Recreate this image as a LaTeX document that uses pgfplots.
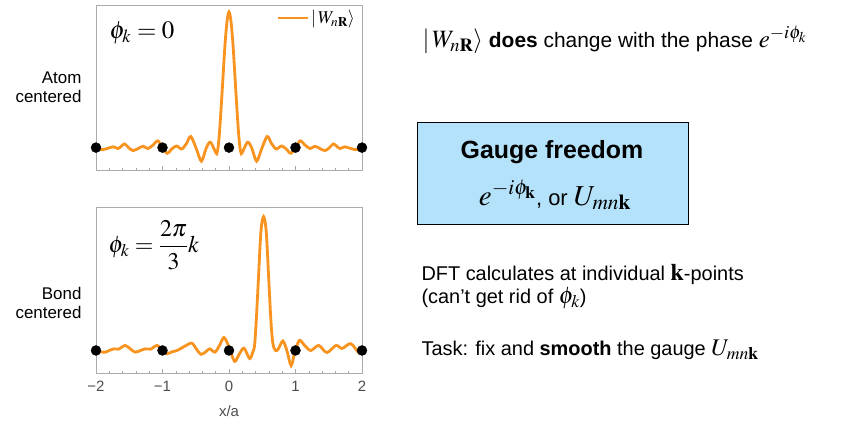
\documentclass[border=0pt]{standalone}
\usepackage{mathptmx}
\usepackage[no-math]{fontspec}
\setmainfont{Liberation Sans}
\usepackage{pgfplots}
\pgfplotsset{compat=1.18}

\definecolor{wfor}{RGB}{247,147,30}
\definecolor{gaugeblue}{RGB}{180,226,250}

\pgfplotsset{
  wanstyle/.style={
    scale only axis,
    width=266bp,
    xmin=-2, xmax=2,
    ymin=-0.165, ymax=1.051,
    xtick={-2,-1,0,1,2},
    minor x tick num=4,
    ytick=\empty,
    tick pos=left,
    tick align=inside,
    axis line style={gray!65, line width=0.9bp},
    major tick length=4bp,
    minor tick length=2.5bp,
    every tick/.style={gray!70, line width=0.6bp},
    tick label style={font=\fontsize{15}{17}\selectfont, text=black!70},
    xticklabel style={yshift=-5bp},
    clip=true,
  },
}
\newcommand{\bmath}[1]{{\fontsize{25}{28}\selectfont$#1$}}

\begin{document}
\begin{tikzpicture}[x=1bp,y=1bp]
\path[use as bounding box] (0,0) rectangle (842,422);
\coordinate (topax) at (96,252);
\coordinate (botax) at (96,49);

% top: atom centered
\begin{axis}[wanstyle,
    at={(topax)}, anchor=south west, height=165bp,
    xticklabels=\empty,
    legend style={draw=none, fill=none, at={(0.985,0.985)}, anchor=north east,
      font=\fontsize{18}{20}\selectfont, inner sep=1bp},
    legend image code/.code={\draw[#1] (0bp,0bp) -- (30bp,0bp);},
]
\addplot[wfor, line width=2.8bp, smooth] table {
x y
-2.00 -0.005
-1.96 -0.01
-1.90 -0.015
-1.82 -0.005
-1.74 0.006
-1.67 -0.007
-1.62 0.01
-1.57 0.027
-1.50 -0.005
-1.44 -0.022
-1.36 -0.005
-1.29 0.01
-1.22 -0.007
-1.14 0.02
-1.07 0.05
-1.00 0.00
-0.93 -0.042
-0.86 -0.01
-0.79 0.012
-0.71 -0.01
-0.64 0.03
-0.575 0.082
-0.49 -0.01
-0.415 -0.10
-0.34 0.00
-0.28 0.04
-0.21 -0.025
-0.185 -0.045
-0.165 0.00
-0.145 0.10
-0.12 0.28
-0.09 0.52
-0.06 0.76
-0.03 0.93
0.00 1.00
0.03 0.93
0.06 0.76
0.09 0.52
0.12 0.28
0.145 0.10
0.165 0.00
0.185 -0.045
0.21 -0.025
0.28 0.04
0.34 0.00
0.415 -0.10
0.49 -0.01
0.575 0.082
0.64 0.03
0.71 -0.01
0.79 0.012
0.86 -0.01
0.93 -0.042
1.00 0.00
1.07 0.05
1.14 0.02
1.22 -0.007
1.29 0.01
1.36 -0.005
1.44 -0.022
1.50 -0.005
1.57 0.027
1.62 0.01
1.67 -0.007
1.74 0.006
1.82 -0.005
1.90 -0.015
1.96 -0.01
2.00 -0.005
};
\addlegendentry{$|\,W_{n\mathbf{R}}\rangle$}
\addplot[only marks, mark=*, mark size=5bp, black, forget plot] coordinates {
(-2,0) (-1,0) (0,0) (1,0) (2,0)
};
\end{axis}

% bottom: bond centered
\begin{axis}[wanstyle,
    at={(botax)}, anchor=south west, height=166bp,
    xticklabels={{−2},{−1},0,1,2},
    xlabel={x/a},
    xlabel style={font=\fontsize{15}{17}\selectfont, text=black!70, yshift=-7bp},
]
\addplot[wfor, line width=2.8bp, smooth] table {
x y
-2.00 0.00
-1.93 -0.01
-1.86 -0.012
-1.80 0.00
-1.73 0.012
-1.66 0.01
-1.56 0.037
-1.48 0.01
-1.41 -0.012
-1.33 0.00
-1.26 0.012
-1.18 0.01
-1.08 0.037
-1.00 0.00
-0.93 -0.024
-0.86 -0.01
-0.78 0.00
-0.67 0.03
-0.56 0.054
-0.49 0.01
-0.42 -0.028
-0.35 -0.01
-0.29 0.012
-0.21 -0.012
-0.14 0.04
-0.08 0.095
-0.03 0.06
0.01 0.01
0.085 -0.08
0.15 -0.03
0.225 0.017
0.31 -0.059
0.36 -0.01
0.385 0.04
0.41 0.22
0.44 0.50
0.48 0.87
0.52 0.98
0.56 0.87
0.60 0.50
0.63 0.22
0.66 0.05
0.70 0.00
0.74 0.01
0.81 0.07
0.87 0.00
0.935 -0.11
0.99 -0.01
1.06 0.074
1.14 0.035
1.23 0.00
1.35 0.037
1.47 -0.015
1.61 0.037
1.70 0.015
1.83 0.05
1.95 -0.015
2.00 0.00
};
\addplot[only marks, mark=*, mark size=5bp, black] coordinates {
(-2,0) (-1,0) (0,0) (1,0) (2,0)
};
\end{axis}

% labels on the left
\node[anchor=east, align=right, font=\fontsize{17}{19.5}\selectfont] at (85,335) {Atom\\centered};
\node[anchor=east, align=right, font=\fontsize{17}{19.5}\selectfont] at (85,119) {Bond\\centered};

% phase labels inside the axes
\node[anchor=west, font=\fontsize{25}{28}\selectfont] at (106,389) {$\phi_k = 0$};
\node[anchor=west, font=\fontsize{24}{28}\selectfont] at (105,177) {$\phi_k = \displaystyle\frac{2\pi}{3}k$};

% text on the right
\node[anchor=west, font=\fontsize{21}{24}\selectfont] at (419,382)
  {\bmath{|\,W_{n\mathbf{R}}\rangle} \textbf{does} change with the phase \bmath{e^{-i\phi_k}}};

\node[draw=black, line width=0.8bp, fill=gaugeblue, minimum width=271bp, minimum height=102bp, inner sep=0] at (552.5,249) {};
\node[font=\bfseries\fontsize{25}{28}\selectfont] at (552,270) {Gauge freedom};
\node[font=\fontsize{22}{26}\selectfont] at (555,227)
  {{\fontsize{29}{32}\selectfont$e^{-i\phi_{\mathbf{k}}}$}, or {\fontsize{29}{32}\selectfont$U_{mn\mathbf{k}}$}};

\node[anchor=west, font=\fontsize{20}{24}\selectfont] at (418,147) {DFT calculates at individual {\fontsize{24}{26}\selectfont$\mathbf{k}$}-points};
\node[anchor=west, font=\fontsize{20}{24}\selectfont] at (418,124) {(can’t get rid of {\fontsize{24}{26}\selectfont$\phi_k$})};
\node[anchor=west, font=\fontsize{20}{24}\selectfont] at (418,72) {Task: fix and \textbf{smooth} the gauge {\fontsize{24}{26}\selectfont$U_{mn\mathbf{k}}$}};
\end{tikzpicture}
\end{document}
